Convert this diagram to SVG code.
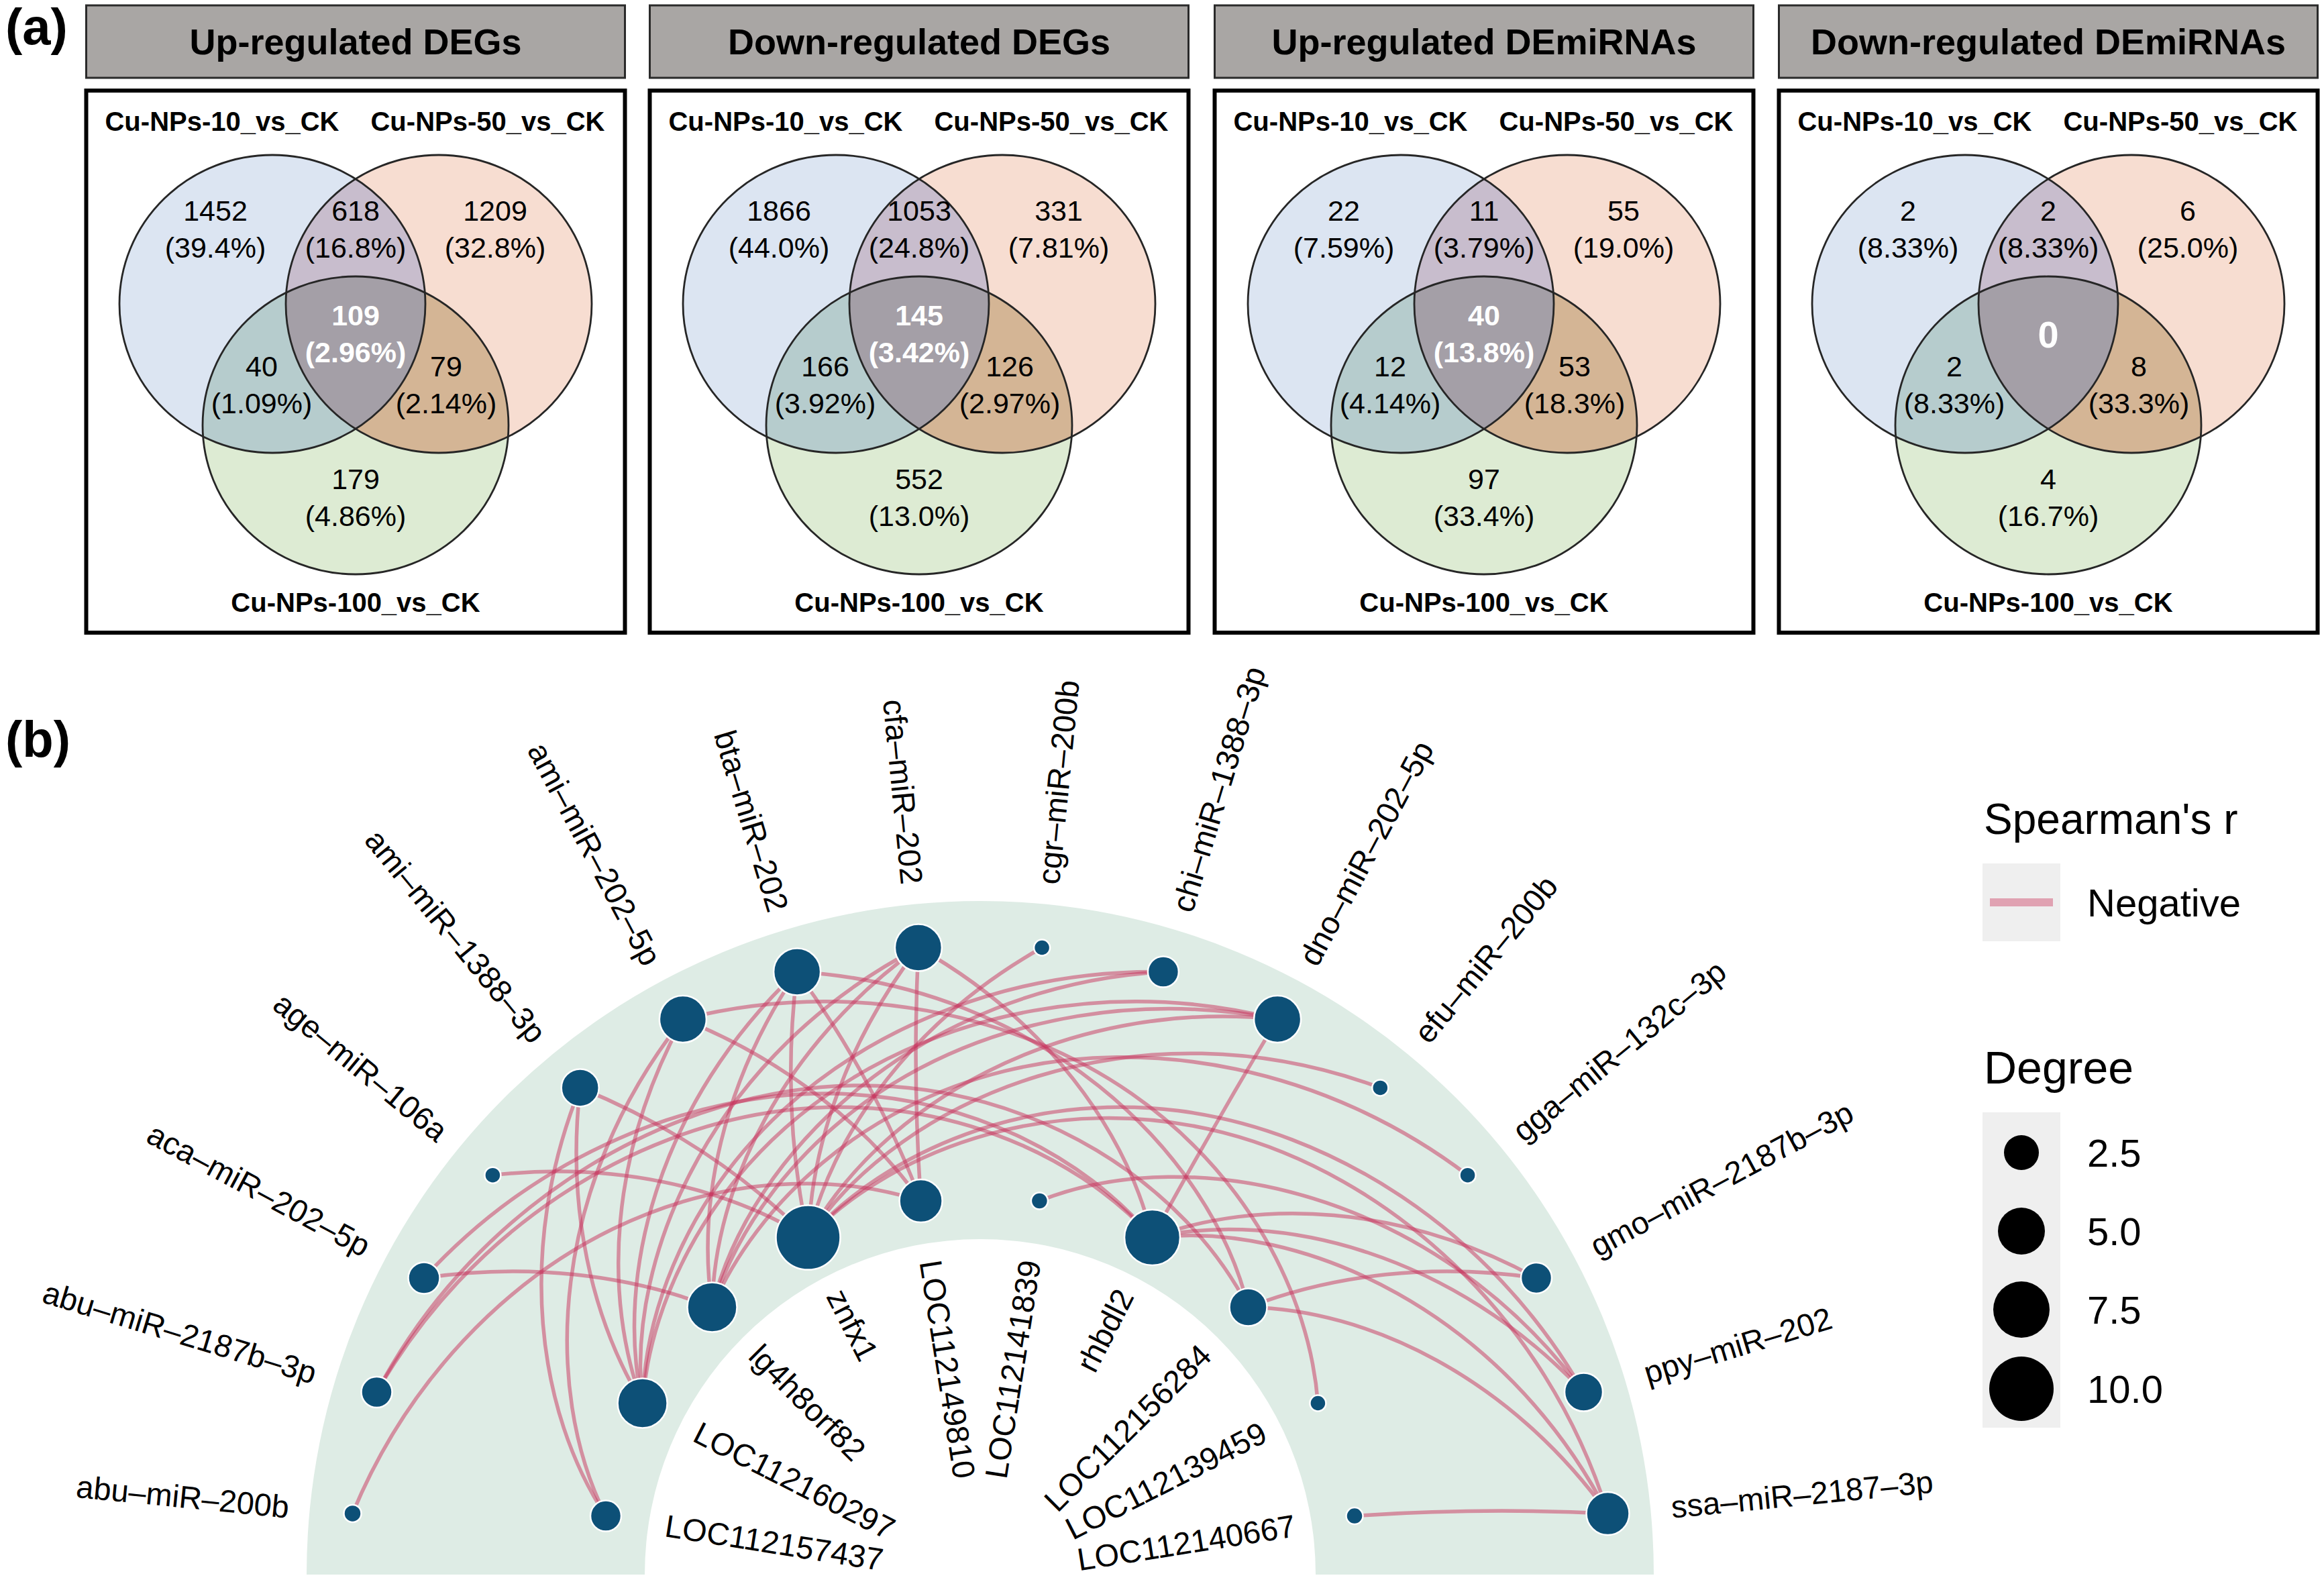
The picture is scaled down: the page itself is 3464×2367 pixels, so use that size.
<svg xmlns="http://www.w3.org/2000/svg" width="3464" height="2367" viewBox="0 0 3464 2367">
<defs>
<style>
text{font-family:"Liberation Sans",Arial,Helvetica,sans-serif;fill:#000}
.tbox{fill:#a9a6a4;stroke:#2a2a2a;stroke-width:3}
.vbox{fill:#fff;stroke:#000;stroke-width:6}
.title{font-size:54px;font-weight:bold;text-anchor:middle}
.set{font-size:40px;font-weight:bold;text-anchor:middle}
.num{font-size:43px;text-anchor:middle}
.numw{font-size:43px;font-weight:bold;text-anchor:middle;fill:#fff}
.ol{fill:none;stroke:#262626;stroke-width:2.8}
.edge{fill:none;stroke:#c8325c;stroke-opacity:0.5;stroke-width:5.5}
.node{fill:#0d5077;stroke:#fff;stroke-width:2.5}
.lab{font-size:47px}
.leg{font-size:58px}
.legt{font-size:64px}
.panel{font-size:76px;font-weight:bold}
</style>
<ellipse id="eA" cx="-124" cy="453" rx="228" ry="222"/>
<ellipse id="eB" cx="124" cy="453" rx="228" ry="222"/>
<ellipse id="eC" cx="0" cy="634" rx="228" ry="222"/>
<clipPath id="cA"><ellipse cx="-124" cy="453" rx="228" ry="222"/></clipPath>
<clipPath id="cB"><ellipse cx="124" cy="453" rx="228" ry="222"/></clipPath>
<g id="venn">
<use href="#eA" fill="#dce5f2"/>
<use href="#eB" fill="#f7ddd1"/>
<use href="#eC" fill="#ddebd3"/>
<use href="#eB" fill="#c8bdcd" clip-path="url(#cA)"/>
<use href="#eC" fill="#b6cccd" clip-path="url(#cA)"/>
<use href="#eC" fill="#d4b595" clip-path="url(#cB)"/>
<g clip-path="url(#cA)"><use href="#eC" fill="#a49fa7" clip-path="url(#cB)"/></g>
<use href="#eA" class="ol"/>
<use href="#eB" class="ol"/>
<use href="#eC" class="ol"/>
</g>
</defs>
<rect width="3464" height="2367" fill="#fff"/>

<text class="panel" x="8" y="66">(a)</text>
<text class="panel" x="8" y="1128">(b)</text>

<g id="venn-up-degs" transform="translate(530,0)">
<rect class="tbox" x="-401.5" y="8" width="803" height="108"/>
<text class="title" x="0" y="81">Up-regulated DEGs</text>
<rect class="vbox" x="-401.5" y="135" width="803" height="808"/>
<use href="#venn"/>
<text class="set" x="-199" y="195">Cu-NPs-10_vs_CK</text>
<text class="set" x="197" y="195">Cu-NPs-50_vs_CK</text>
<text class="set" x="0" y="912">Cu-NPs-100_vs_CK</text>
<text class="num" x="-209" y="329">1452</text><text class="num" x="-209" y="384">(39.4%)</text>
<text class="num" x="0" y="329">618</text><text class="num" x="0" y="384">(16.8%)</text>
<text class="num" x="208" y="329">1209</text><text class="num" x="208" y="384">(32.8%)</text>
<text class="numw" x="0" y="485">109</text><text class="numw" x="0" y="540">(2.96%)</text>
<text class="num" x="-140" y="561">40</text><text class="num" x="-140" y="616">(1.09%)</text>
<text class="num" x="135" y="561">79</text><text class="num" x="135" y="616">(2.14%)</text>
<text class="num" x="0" y="729">179</text><text class="num" x="0" y="784">(4.86%)</text>
</g>

<g id="venn-down-degs" transform="translate(1370,0)">
<rect class="tbox" x="-401.5" y="8" width="803" height="108"/>
<text class="title" x="0" y="81">Down-regulated DEGs</text>
<rect class="vbox" x="-401.5" y="135" width="803" height="808"/>
<use href="#venn"/>
<text class="set" x="-199" y="195">Cu-NPs-10_vs_CK</text>
<text class="set" x="197" y="195">Cu-NPs-50_vs_CK</text>
<text class="set" x="0" y="912">Cu-NPs-100_vs_CK</text>
<text class="num" x="-209" y="329">1866</text><text class="num" x="-209" y="384">(44.0%)</text>
<text class="num" x="0" y="329">1053</text><text class="num" x="0" y="384">(24.8%)</text>
<text class="num" x="208" y="329">331</text><text class="num" x="208" y="384">(7.81%)</text>
<text class="numw" x="0" y="485">145</text><text class="numw" x="0" y="540">(3.42%)</text>
<text class="num" x="-140" y="561">166</text><text class="num" x="-140" y="616">(3.92%)</text>
<text class="num" x="135" y="561">126</text><text class="num" x="135" y="616">(2.97%)</text>
<text class="num" x="0" y="729">552</text><text class="num" x="0" y="784">(13.0%)</text>
</g>

<g id="venn-up-demirnas" transform="translate(2212,0)">
<rect class="tbox" x="-401.5" y="8" width="803" height="108"/>
<text class="title" x="0" y="81">Up-regulated DEmiRNAs</text>
<rect class="vbox" x="-401.5" y="135" width="803" height="808"/>
<use href="#venn"/>
<text class="set" x="-199" y="195">Cu-NPs-10_vs_CK</text>
<text class="set" x="197" y="195">Cu-NPs-50_vs_CK</text>
<text class="set" x="0" y="912">Cu-NPs-100_vs_CK</text>
<text class="num" x="-209" y="329">22</text><text class="num" x="-209" y="384">(7.59%)</text>
<text class="num" x="0" y="329">11</text><text class="num" x="0" y="384">(3.79%)</text>
<text class="num" x="208" y="329">55</text><text class="num" x="208" y="384">(19.0%)</text>
<text class="numw" x="0" y="485">40</text><text class="numw" x="0" y="540">(13.8%)</text>
<text class="num" x="-140" y="561">12</text><text class="num" x="-140" y="616">(4.14%)</text>
<text class="num" x="135" y="561">53</text><text class="num" x="135" y="616">(18.3%)</text>
<text class="num" x="0" y="729">97</text><text class="num" x="0" y="784">(33.4%)</text>
</g>

<g id="venn-down-demirnas" transform="translate(3053,0)">
<rect class="tbox" x="-401.5" y="8" width="803" height="108"/>
<text class="title" x="0" y="81">Down-regulated DEmiRNAs</text>
<rect class="vbox" x="-401.5" y="135" width="803" height="808"/>
<use href="#venn"/>
<text class="set" x="-199" y="195">Cu-NPs-10_vs_CK</text>
<text class="set" x="197" y="195">Cu-NPs-50_vs_CK</text>
<text class="set" x="0" y="912">Cu-NPs-100_vs_CK</text>
<text class="num" x="-209" y="329">2</text><text class="num" x="-209" y="384">(8.33%)</text>
<text class="num" x="0" y="329">2</text><text class="num" x="0" y="384">(8.33%)</text>
<text class="num" x="208" y="329">6</text><text class="num" x="208" y="384">(25.0%)</text>
<text class="numw" x="0" y="518" style="font-size:56px">0</text>
<text class="num" x="-140" y="561">2</text><text class="num" x="-140" y="616">(8.33%)</text>
<text class="num" x="135" y="561">8</text><text class="num" x="135" y="616">(33.3%)</text>
<text class="num" x="0" y="729">4</text><text class="num" x="0" y="784">(16.7%)</text>
</g>

<path id="ring" d="M457,2347 A1004,1004 0 0 1 2465,2347 L1961,2347 A500,500 0 0 0 961,2347 Z" fill="#deece5"/>

<g id="edges">
<path class="edge" d="M525.5,2255.9 C607.9,2056.9 754.8,1909.0 913.5,1831.8 C1072.2,1754.6 1240.5,1747.7 1372.6,1790.0"/>
<path class="edge" d="M561.5,2075.1 C700.8,1831.2 940.1,1684.0 1166.2,1655.6 C1392.3,1627.2 1599.2,1714.2 1717.5,1844.6"/>
<path class="edge" d="M561.5,2075.1 C715.1,1784.1 1012.2,1620.2 1278.2,1618.0 C1544.2,1615.8 1767.4,1767.0 1860.5,1948.5"/>
<path class="edge" d="M632.0,1904.9 C785.7,1882.5 933.9,1899.3 1061.5,1948.5"/>
<path class="edge" d="M632.0,1904.9 C801.7,1720.0 1031.2,1628.8 1235.5,1630.1 C1439.8,1631.4 1615.7,1722.6 1717.5,1844.6"/>
<path class="edge" d="M734.4,1751.7 C913.0,1731.1 1078.6,1768.5 1204.5,1844.6"/>
<path class="edge" d="M864.7,1621.4 C768.0,1862.4 800.9,2104.9 903.0,2259.6"/>
<path class="edge" d="M864.7,1621.4 C844.1,1800.0 881.5,1965.6 957.6,2091.5"/>
<path class="edge" d="M864.7,1621.4 C996.3,1675.1 1111.5,1751.7 1204.5,1844.6"/>
<path class="edge" d="M1017.9,1519.0 C821.8,1765.5 806.7,2068.4 903.0,2259.6"/>
<path class="edge" d="M1017.9,1519.0 C908.6,1719.1 898.3,1932.6 957.6,2091.5"/>
<path class="edge" d="M1017.9,1519.0 C1169.1,1579.9 1291.0,1676.4 1372.6,1790.0"/>
<path class="edge" d="M1017.9,1519.0 C1267.1,1456.7 1514.9,1510.6 1686.5,1630.1 C1858.1,1749.5 1952.1,1929.7 1964.4,2091.5"/>
<path class="edge" d="M1188.1,1448.5 C983.0,1641.3 915.1,1899.7 957.6,2091.5"/>
<path class="edge" d="M1188.1,1448.5 C1077.2,1612.8 1038.5,1794.7 1061.5,1948.5"/>
<path class="edge" d="M1188.1,1448.5 C1171.4,1584.2 1177.4,1718.1 1204.5,1844.6"/>
<path class="edge" d="M1188.1,1448.5 C1265.6,1555.6 1327.5,1670.6 1372.6,1790.0"/>
<path class="edge" d="M1188.1,1448.5 C1548.2,1469.9 1805.1,1716.3 1860.5,1948.5"/>
<path class="edge" d="M1368.9,1412.5 C1068.9,1567.7 931.8,1866.7 957.6,2091.5"/>
<path class="edge" d="M1368.9,1412.5 C1166.9,1558.0 1064.6,1768.6 1061.5,1948.5"/>
<path class="edge" d="M1368.9,1412.5 C1264.8,1548.4 1210.4,1701.3 1204.5,1844.6"/>
<path class="edge" d="M1368.9,1412.5 C1362.8,1538.7 1364.0,1664.8 1372.6,1790.0"/>
<path class="edge" d="M1368.9,1412.5 C1558.7,1519.4 1678.7,1684.5 1717.5,1844.6"/>
<path class="edge" d="M1553.1,1412.5 C1363.3,1519.4 1243.3,1684.5 1204.5,1844.6"/>
<path class="edge" d="M1733.9,1448.5 C1506.8,1444.9 1302.6,1529.6 1166.2,1655.6 C1029.8,1781.6 961.5,1946.2 957.6,2091.5"/>
<path class="edge" d="M1733.9,1448.5 C1373.8,1469.9 1116.9,1716.3 1061.5,1948.5"/>
<path class="edge" d="M1904.1,1519.0 C1654.9,1456.7 1407.1,1510.6 1235.5,1630.1 C1063.9,1749.5 969.9,1929.7 957.6,2091.5"/>
<path class="edge" d="M1904.1,1519.0 C1698.3,1479.9 1499.8,1518.3 1350.6,1603.6 C1201.4,1688.9 1102.3,1819.3 1061.5,1948.5"/>
<path class="edge" d="M1904.1,1519.0 C1579.3,1487.1 1309.2,1651.0 1204.5,1844.6"/>
<path class="edge" d="M1904.1,1519.0 C1839.7,1626.3 1777.5,1734.9 1717.5,1844.6"/>
<path class="edge" d="M2057.3,1621.4 C1697.4,1487.8 1342.1,1634.2 1204.5,1844.6"/>
<path class="edge" d="M2187.6,1751.7 C1973.4,1589.2 1710.0,1544.2 1497.9,1596.4 C1285.8,1648.6 1128.4,1793.2 1061.5,1948.5"/>
<path class="edge" d="M2290.0,1904.9 C2089.9,1795.6 1876.4,1785.3 1717.5,1844.6"/>
<path class="edge" d="M2290.0,1904.9 C2136.3,1882.5 1988.1,1899.3 1860.5,1948.5"/>
<path class="edge" d="M2360.5,2075.1 C2221.2,1831.2 1981.9,1684.0 1755.8,1655.6 C1529.7,1627.2 1322.8,1714.2 1204.5,1844.6"/>
<path class="edge" d="M2360.5,2075.1 C2139.1,1775.8 1777.1,1699.5 1549.4,1790.0"/>
<path class="edge" d="M2360.5,2075.1 C2167.7,1870.0 1909.3,1802.1 1717.5,1844.6"/>
<path class="edge" d="M2396.5,2255.9 C2304.4,1958.9 2066.1,1750.1 1822.2,1687.9 C1578.3,1625.7 1339.2,1705.8 1204.5,1844.6"/>
<path class="edge" d="M2396.5,2255.9 C2241.4,1955.9 1942.3,1818.8 1717.5,1844.6"/>
<path class="edge" d="M2396.5,2255.9 C2251.0,2053.9 2040.4,1951.6 1860.5,1948.5"/>
<path class="edge" d="M2396.5,2255.9 C2270.3,2249.8 2144.2,2251.0 2019.0,2259.6"/>
</g>

<g id="n-abu-miR-200b"><circle class="node" cx="525.5" cy="2255.9" r="13"/><text class="lab" text-anchor="end" dy="0.35em" transform="translate(431.0,2246.5) rotate(5.625)">abu–miR–200b</text></g>
<g id="n-abu-miR-2187b-3p"><circle class="node" cx="561.5" cy="2075.1" r="23"/><text class="lab" text-anchor="end" dy="0.35em" transform="translate(470.6,2047.6) rotate(16.875)">abu–miR–2187b–3p</text></g>
<g id="n-aca-miR-202-5p"><circle class="node" cx="632.0" cy="1904.9" r="23.5"/><text class="lab" text-anchor="end" dy="0.35em" transform="translate(548.2,1860.1) rotate(28.125)">aca–miR–202–5p</text></g>
<g id="n-age-miR-106a"><circle class="node" cx="734.4" cy="1751.7" r="12"/><text class="lab" text-anchor="end" dy="0.35em" transform="translate(660.9,1691.4) rotate(39.375)">age–miR–106a</text></g>
<g id="n-ami-miR-1388-3p"><circle class="node" cx="864.7" cy="1621.4" r="28"/><text class="lab" text-anchor="end" dy="0.35em" transform="translate(804.4,1547.9) rotate(50.625)">ami–miR–1388–3p</text></g>
<g id="n-ami-miR-202-5p"><circle class="node" cx="1017.9" cy="1519.0" r="35"/><text class="lab" text-anchor="end" dy="0.35em" transform="translate(973.1,1435.2) rotate(61.875)">ami–miR–202–5p</text></g>
<g id="n-bta-miR-202"><circle class="node" cx="1188.1" cy="1448.5" r="35"/><text class="lab" text-anchor="end" dy="0.35em" transform="translate(1160.6,1357.6) rotate(73.125)">bta–miR–202</text></g>
<g id="n-cfa-miR-202"><circle class="node" cx="1368.9" cy="1412.5" r="35"/><text class="lab" text-anchor="end" dy="0.35em" transform="translate(1359.5,1318.0) rotate(84.375)">cfa–miR–202</text></g>
<g id="n-cgr-miR-200b"><circle class="node" cx="1553.1" cy="1412.5" r="12"/><text class="lab" text-anchor="start" dy="0.35em" transform="translate(1562.5,1318.0) rotate(-84.375)">cgr–miR–200b</text></g>
<g id="n-chi-miR-1388-3p"><circle class="node" cx="1733.9" cy="1448.5" r="23"/><text class="lab" text-anchor="start" dy="0.35em" transform="translate(1761.4,1357.6) rotate(-73.125)">chi–miR–1388–3p</text></g>
<g id="n-dno-miR-202-5p"><circle class="node" cx="1904.1" cy="1519.0" r="35"/><text class="lab" text-anchor="start" dy="0.35em" transform="translate(1948.9,1435.2) rotate(-61.875)">dno–miR–202–5p</text></g>
<g id="n-efu-miR-200b"><circle class="node" cx="2057.3" cy="1621.4" r="12"/><text class="lab" text-anchor="start" dy="0.35em" transform="translate(2117.6,1547.9) rotate(-50.625)">efu–miR–200b</text></g>
<g id="n-gga-miR-132c-3p"><circle class="node" cx="2187.6" cy="1751.7" r="12"/><text class="lab" text-anchor="start" dy="0.35em" transform="translate(2261.1,1691.4) rotate(-39.375)">gga–miR–132c–3p</text></g>
<g id="n-gmo-miR-2187b-3p"><circle class="node" cx="2290.0" cy="1904.9" r="23"/><text class="lab" text-anchor="start" dy="0.35em" transform="translate(2373.8,1860.1) rotate(-28.125)">gmo–miR–2187b–3p</text></g>
<g id="n-ppy-miR-202"><circle class="node" cx="2360.5" cy="2075.1" r="28.5"/><text class="lab" text-anchor="start" dy="0.35em" transform="translate(2451.4,2047.6) rotate(-16.875)">ppy–miR–202</text></g>
<g id="n-ssa-miR-2187-3p"><circle class="node" cx="2396.5" cy="2255.9" r="32"/><text class="lab" text-anchor="start" dy="0.35em" transform="translate(2491.0,2246.5) rotate(-5.625)">ssa–miR–2187–3p</text></g>

<g id="n-LOC112157437"><circle class="node" cx="903.0" cy="2259.6" r="23"/><text class="lab" text-anchor="start" dy="0.35em" transform="translate(991.8,2273.7) rotate(9)">LOC112157437</text></g>
<g id="n-LOC112160297"><circle class="node" cx="957.6" cy="2091.5" r="37"/><text class="lab" text-anchor="start" dy="0.35em" transform="translate(1037.8,2132.4) rotate(27)">LOC112160297</text></g>
<g id="n-lg4h8orf82"><circle class="node" cx="1061.5" cy="1948.5" r="37"/><text class="lab" text-anchor="start" dy="0.35em" transform="translate(1125.1,2012.1) rotate(45)">lg4h8orf82</text></g>
<g id="n-znfx1"><circle class="node" cx="1204.5" cy="1844.6" r="48"/><text class="lab" text-anchor="start" dy="0.35em" transform="translate(1245.4,1924.8) rotate(63)">znfx1</text></g>
<g id="n-LOC112149810"><circle class="node" cx="1372.6" cy="1790.0" r="32"/><text class="lab" text-anchor="start" dy="0.35em" transform="translate(1386.7,1878.8) rotate(81)">LOC112149810</text></g>
<g id="n-LOC112141839"><circle class="node" cx="1549.4" cy="1790.0" r="12.5"/><text class="lab" text-anchor="end" dy="0.35em" transform="translate(1535.3,1878.8) rotate(-81)">LOC112141839</text></g>
<g id="n-rhbdl2"><circle class="node" cx="1717.5" cy="1844.6" r="41.5"/><text class="lab" text-anchor="end" dy="0.35em" transform="translate(1676.6,1924.8) rotate(-63)">rhbdl2</text></g>
<g id="n-LOC112156284"><circle class="node" cx="1860.5" cy="1948.5" r="28"/><text class="lab" text-anchor="end" dy="0.35em" transform="translate(1796.9,2012.1) rotate(-45)">LOC112156284</text></g>
<g id="n-LOC112139459"><circle class="node" cx="1964.4" cy="2091.5" r="12"/><text class="lab" text-anchor="end" dy="0.35em" transform="translate(1884.2,2132.4) rotate(-27)">LOC112139459</text></g>
<g id="n-LOC112140667"><circle class="node" cx="2019.0" cy="2259.6" r="12.5"/><text class="lab" text-anchor="end" dy="0.35em" transform="translate(1930.2,2273.7) rotate(-9)">LOC112140667</text></g>

<g id="legend">
<text class="legt" x="2957" y="1243">Spearman's r</text>
<rect x="2955" y="1287" width="116" height="116" fill="#efefef"/>
<line x1="2966" y1="1345" x2="3060" y2="1345" stroke="#e0a2b2" stroke-width="12"/>
<text class="leg" x="3111" y="1366">Negative</text>
<text class="legt" x="2957" y="1615" style="font-size:68px">Degree</text>
<rect x="2955" y="1658" width="116" height="470" fill="#efefef"/>
<circle cx="3013" cy="1718" r="26" fill="#000"/>
<circle cx="3013" cy="1835" r="35" fill="#000"/>
<circle cx="3013" cy="1952" r="42" fill="#000"/>
<circle cx="3013" cy="2070" r="48" fill="#000"/>
<text class="leg" x="3111" y="1739">2.5</text>
<text class="leg" x="3111" y="1856">5.0</text>
<text class="leg" x="3111" y="1973">7.5</text>
<text class="leg" x="3111" y="2091">10.0</text>
</g>
</svg>
